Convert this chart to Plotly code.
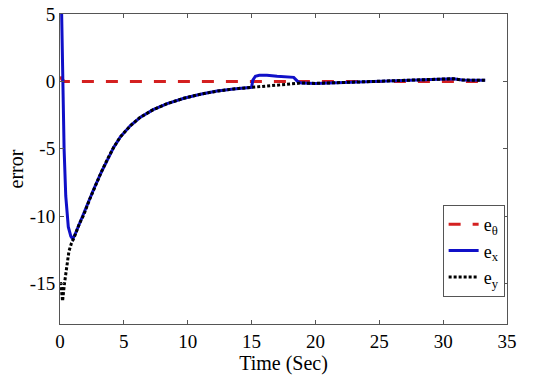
import plotly.graph_objects as go

# ---- data ----
t_theta = [0.0, 0.15, 0.35, 5.0, 10.0, 15.0, 20.0, 25.0, 30.0, 33.3]
e_theta = [0.35, 0.15, 0.0, 0.0, 0.0, 0.0, 0.0, 0.0, 0.0, 0.0]

t_x = [0.12, 0.22, 0.32, 0.45, 0.65, 0.85, 1.0, 1.2, 1.5, 1.86, 2.3, 2.64, 3.2, 3.7, 4.2,
       4.7, 5.5, 6.3, 7.3, 8.4, 9.7, 11.0, 12.3, 13.6, 14.6, 15.0, 15.1, 15.3, 15.6,
       16.2, 17.0, 17.8, 18.3, 18.6, 18.9, 20.0, 22.0, 24.0, 26.0, 28.0, 29.5, 30.8,
       31.5, 33.3]
e_x = [5.5, 0.0, -5.0, -8.5, -10.8, -11.5, -11.7, -11.3, -10.6, -9.9, -8.8, -8.0, -6.8, -5.8, -4.9,
       -4.15, -3.3, -2.65, -2.1, -1.65, -1.25, -0.95, -0.72, -0.56, -0.47, -0.44, 0.1, 0.38, 0.45,
       0.45, 0.38, 0.33, 0.3, 0.0, -0.12, -0.15, -0.08, 0.0, 0.08, 0.1, 0.15, 0.2,
       0.1, 0.08]

t_y = [0.05, 0.12, 0.2, 0.35, 0.5, 0.7, 0.9, 1.1, 1.5, 1.86, 2.3, 2.64, 3.2, 3.7, 4.2,
       4.7, 5.5, 6.3, 7.3, 8.4, 9.7, 11.0, 12.3, 13.6, 14.6, 15.0, 15.6, 16.5, 17.3,
       18.0, 18.9, 20.0, 22.0, 24.0, 26.0, 28.0, 29.5, 30.8, 31.5, 33.3]
e_y = [-14.9, -15.8, -16.3, -15.0, -13.8, -12.6, -12.0, -11.6, -10.6, -9.9, -8.8, -8.0, -6.8, -5.8, -4.9,
       -4.15, -3.3, -2.65, -2.1, -1.65, -1.25, -0.95, -0.72, -0.56, -0.47, -0.44, -0.4, -0.33, -0.25,
       -0.17, -0.12, -0.15, -0.08, 0.0, 0.08, 0.1, 0.15, 0.2, 0.1, 0.08]

x_ticks = [0, 5, 10, 15, 20, 25, 30, 35]
y_ticks = [-15, -10, -5, 0, 5]

FONT = "Liberation Serif, serif"
AX = "#555555"

fig = go.Figure()
fig.add_trace(go.Scatter(x=t_theta, y=e_theta, mode="lines", name="e<sub>θ</sub>",
                         line=dict(color="#d42020", width=3, dash="12px,12px")))
fig.add_trace(go.Scatter(x=t_x, y=e_x, mode="lines", name="e<sub>x</sub>",
                         line=dict(color="#1010c8", width=3)))
fig.add_trace(go.Scatter(x=t_y, y=e_y, mode="lines", name="e<sub>y</sub>",
                         line=dict(color="#000000", width=3, dash="3px,2px")))

axis_common = dict(showline=True, linecolor=AX, linewidth=1, mirror="ticks",
                   ticks="inside", ticklen=4, tickcolor=AX, showgrid=False,
                   zeroline=False, automargin=False, ticklabeloverflow="allow",
                   tickfont=dict(family=FONT, size=19, color="black"))

fig.update_xaxes(range=[0, 35], tickvals=x_ticks, ticktext=[str(v) for v in x_ticks],
                 title=dict(text="Time (Sec)", font=dict(family=FONT, size=20, color="black"),
                            standoff=2),
                 **axis_common)
fig.update_yaxes(range=[-18, 5], tickvals=y_ticks, ticktext=[str(v) for v in y_ticks],
                 title=dict(text="error", font=dict(family=FONT, size=20, color="black"),
                            standoff=0),
                 **axis_common)

fig.update_layout(
    width=550, height=389,
    margin=dict(l=60, r=43, t=14, b=65),
    paper_bgcolor="white", plot_bgcolor="white",
    font=dict(family=FONT, color="black"),
    legend=dict(x=0.856, y=0.384, xanchor="left", yanchor="top",
                bgcolor="white", bordercolor=AX, borderwidth=1,
                font=dict(family=FONT, size=18, color="black"),
                itemwidth=30, tracegroupgap=0),
)

fig.write_html("out.html", config={"displayModeBar": False},
               post_script="document.body.style.margin='0';document.body.style.overflow='hidden';")
